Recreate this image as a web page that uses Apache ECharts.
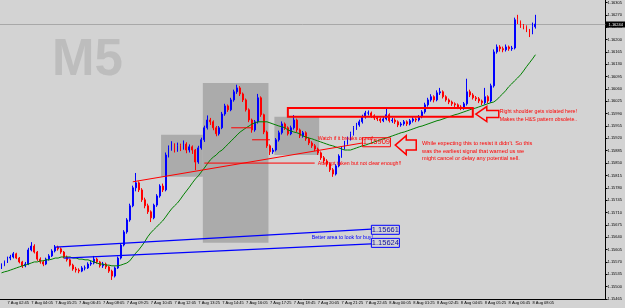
<!DOCTYPE html>
<html>
<head>
<meta charset="utf-8">
<script src="https://cdn.jsdelivr.net/npm/echarts@6/dist/echarts.min.js"></script>
<style>
  html, body { margin: 0; padding: 0; background: #d3d3d3; }
  #chart { width: 625px; height: 308px; }
</style>
</head>
<body>
<div id="chart"></div>
<script>
// EURUSD, drawn as 10 minute bars. Prices are kept as points above 1.15000
const BASE = 1.15;
const startTime = Date.UTC(2018, 7, 7, 2, 25);
const stepMinutes = 10;

// [open, close, low, high]
const ohlcPts = [
  [556,561,550,566],[561,570,558,574],[570,581,567,585],[581,584,575,590],[584,593,580,598],
  [593,581,578,596],[581,570,566,584],[570,559,553,573],[559,564,555,570],[564,604,561,610],
  [604,615,600,626],[615,598,594,620],[598,578,573,601],[578,570,565,583],[570,564,558,575],
  [564,578,561,582],[578,587,574,592],[587,601,584,606],[601,612,597,618],[612,607,602,616],
  [607,598,593,611],[598,584,580,601],[584,576,571,588],[576,561,557,579],[561,550,545,565],
  [550,547,540,556],[547,544,538,552],[544,553,541,558],[553,553,546,560],[553,564,550,569],
  [564,567,559,573],[567,578,563,587],[578,570,565,582],[570,559,554,573],[559,564,553,570],
  [564,556,550,568],[556,544,539,559],[544,530,519,548],[530,553,526,557],[553,581,550,585],
  [581,618,577,622],[618,655,614,660],[655,689,650,694],[689,729,684,735],[729,780,725,786],
  [780,794,770,822],[794,774,768,798],[774,746,740,779],[746,729,722,752],[729,712,706,735],
  [712,695,683,716],[695,731,691,735],[731,757,726,762],[757,785,752,790],[785,774,768,792],
  [774,873,770,880],[873,893,866,900],[893,901,885,912],[901,887,880,906],[887,899,882,908],
  [899,893,884,905],[893,904,888,914],[904,887,878,909],[887,896,880,903],[896,887,876,900],
  [887,853,830,890],[853,893,848,899],[893,916,888,922],[916,950,910,956],[950,972,945,985],
  [972,967,958,978],[967,950,943,971],[950,933,926,955],[933,950,928,955],[950,989,946,995],
  [989,1012,984,1018],[1012,1001,995,1016],[1001,1029,997,1035],[1029,1052,1024,1058],[1052,1063,1046,1072],
  [1063,1046,1040,1068],[1046,1029,1023,1050],[1029,1001,996,1033],[1001,972,966,1005],[972,944,936,976],
  [944,967,939,972],[967,1035,962,1046],[1035,987,981,1039],[987,938,932,990],[938,899,893,942],
  [899,882,873,903],[882,887,876,893],[887,916,883,921],[916,936,911,942],[936,961,931,968],
  [961,950,944,965],[950,933,928,954],[933,950,929,956],[950,972,945,986],[972,944,938,976],
  [944,927,921,948],[927,936,922,941],[936,919,913,940],[919,907,901,923],[907,899,893,912],
  [899,890,884,904],[890,879,873,894],[879,865,859,883],[865,856,849,870],[856,848,840,861],
  [848,831,825,852],[831,819,811,836],[819,842,815,847],[842,870,838,875],[870,893,865,898],
  [893,907,888,913],[907,919,902,925],[919,933,914,939],[933,950,928,955],[950,958,944,964],
  [958,967,953,973],[967,981,962,987],[981,992,976,998],[992,992,985,999],[992,984,978,996],
  [984,978,972,988],[978,975,969,983],[975,970,964,979],[970,975,966,981],[975,987,971,1006],
  [987,970,965,991],[970,972,964,978],[972,967,961,977],[967,958,952,971],[958,961,953,966],
  [961,967,956,972],[967,961,955,971],[961,970,957,975],[970,975,965,980],[975,972,966,979],
  [972,981,968,986],[981,995,977,1000],[995,1015,990,1021],[1015,1029,1010,1035],[1029,1038,1024,1045],
  [1038,1029,1022,1042],[1029,1049,1025,1056],[1049,1052,1043,1063],[1052,1038,1033,1056],[1038,1029,1024,1042],
  [1029,1023,1017,1033],[1023,1018,1012,1027],[1018,1015,1009,1022],[1015,1009,1003,1019],[1009,1006,1000,1014],
  [1006,1018,1001,1023],[1018,1052,1013,1089],[1052,1043,1037,1058],[1043,1035,1030,1048],[1035,1032,1026,1040],
  [1032,1026,1020,1037],[1026,1021,1014,1030],[1021,1038,1016,1063],[1038,1026,1019,1042],[1026,1069,1021,1075],
  [1069,1165,1064,1172],[1165,1179,1160,1186],[1179,1174,1166,1184],[1174,1171,1164,1180],[1171,1179,1166,1186],
  [1179,1174,1168,1183],[1174,1176,1168,1182],[1176,1256,1172,1262],[1256,1250,1244,1270],[1250,1239,1233,1254],
  [1239,1236,1229,1244],[1236,1227,1221,1240],[1227,1219,1207,1230],[1219,1236,1215,1248],[1236,1244,1231,1270]
];

// moving average
const maPts = [
  539,542,544,547,550,553,556,559,561,564, 567,570,570,573,573,576,576,578,581,581,
  584,584,584,584,581,581,578,578,576,576, 573,570,567,564,564,561,561,559,559,559,
  561,564,567,573,584,595,604,615,627,641, 652,661,669,678,686,697,709,720,729,737,
  748,760,771,782,794,805,814,825,836,848, 859,867,873,882,887,896,904,913,921,930,
  938,944,950,955,961,964,967,967,967,967, 964,961,958,955,953,950,944,941,938,936,
  933,927,924,921,919,916,913,910,907,904, 901,899,896,893,890,887,887,887,890,893,
  896,899,901,904,907,910,913,916,919,921, 924,927,930,933,936,938,941,944,947,950,
  953,955,958,961,964,967,970,972,975,978, 981,984,987,989,992,995,998,1001,1004,1006,
  1009,1012,1015,1018,1021,1023,1029,1038,1046,1055, 1066,1074,1083,1091,1100,1111,1123,1134,1145,1157
];

const bidPts = 1244;
const yMin = 1.15465, yMax = 1.16312, yStep = 0.00035;
const extraBars = 23; // empty space right of the last bar

// annotations, in [bar index, points]
const grayBoxes = [[54, 67, 930, 811], [68, 89, 1077, 624], [92, 106, 981, 873]];
const redSegments = [[44, 797, 121, 907], [68, 850, 105, 850], [77, 950, 84, 950], [84, 916, 90, 916]];
const blueSegments = [[18, 612, 124, 663], [21, 581, 124, 621]];
const redFrame = [96, 1006, 158, 981];
const priceTags = [
  { idx: 121, pts: 909, text: '1.15909', color: '#ff0000' },
  { idx: 124, pts: 661, text: '1.15661', color: '#0000ff' },
  { idx: 124, pts: 624, text: '1.15624', color: '#0000ff' }
];
const arrows = [
  { idx: 132, pts: 901, len: 21, head: 11, hh: 9.5, sh: 5 },
  { idx: 159, pts: 989, len: 23, head: 11, hh: 7.5, sh: 3.5 }
];
const notes = [
  { idx: 106, pts: 921, color: '#ff0000', size: 5.2, text: 'Watch if it breaks or not!' },
  { idx: 106, pts: 850, color: '#ff0000', size: 5.2, text: 'Attempt taken but not clear enough!!' },
  { idx: 141, pts: 907, color: '#ff0000', size: 5.6, text: "While expecting this to resist it didn't. So this\nwas the earliest signal that warned us we\nmight cancel or delay any potential sell." },
  { idx: 167, pts: 998, color: '#ff0000', size: 5.2, text: 'Right shoulder gets violated here!\nMakes the H&S pattern obsolete..' },
  { idx: 104, pts: 641, color: '#0000ff', size: 5.2, text: 'Better area to look for buy!' }
];

const FONT = 'Liberation Sans, Arial, sans-serif';
const toPrice = (p) => +(BASE + p / 100000).toFixed(5);

const months = ['Jan','Feb','Mar','Apr','May','Jun','Jul','Aug','Sep','Oct','Nov','Dec'];
const pad = (v) => (v < 10 ? '0' : '') + v;
const categories = ohlcPts.map((_, i) => {
  const d = new Date(startTime + i * stepMinutes * 60000);
  return d.getUTCDate() + ' ' + months[d.getUTCMonth()] + ' ' + pad(d.getUTCHours()) + ':' + pad(d.getUTCMinutes());
});
const candles = ohlcPts.map((b) => b.map(toPrice));
const ma = maPts.map(toPrice);
const n = categories.length;
const showTime = (i) => i % 8 === 2 && i < n;

const chart = echarts.init(document.getElementById('chart'), null, { renderer: 'canvas' });

chart.setOption({
  animation: false,
  backgroundColor: '#d3d3d3',
  grid: { left: -1, right: 17, top: 0, bottom: 9 },
  xAxis: {
    type: 'category',
    data: categories,
    max: n - 1 + extraBars,
    boundaryGap: true,
    axisLine: { lineStyle: { color: '#000', width: 1 } },
    axisTick: { alignWithLabel: true, interval: showTime, length: 3, lineStyle: { color: '#000' } },
    axisLabel: {
      interval: showTime, align: 'left', margin: 2, fontSize: 4, color: '#000', fontFamily: FONT,
      showMinLabel: true, showMaxLabel: true,
      formatter: (v) => v || ''
    },
    splitLine: { show: false }
  },
  yAxis: {
    type: 'value',
    position: 'right',
    min: yMin, max: yMax, interval: yStep,
    axisLine: { show: true, lineStyle: { color: '#000', width: 1 } },
    axisTick: { show: true, length: 2, lineStyle: { color: '#000' } },
    axisLabel: {
      fontSize: 4, color: '#000', margin: 2, fontFamily: FONT, showMaxLabel: false,
      formatter: (v) => v.toFixed(5)
    },
    splitLine: { show: false }
  },
  series: [
    {
      type: 'candlestick',
      data: candles,
      barWidth: 1.4,
      itemStyle: { color: '#0000ff', color0: '#ff0000', borderColor: '#0000ff', borderColor0: '#ff0000', borderWidth: 1 }
    },
    {
      type: 'line',
      data: ma,
      showSymbol: false,
      silent: true,
      lineStyle: { color: '#008000', width: 1 },
      z: 3
    }
  ]
});

// annotations are placed through the axes of the chart
function pt(idx, pts) {
  return chart.convertToPixel({ seriesIndex: 0 }, [idx, toPrice(pts)]);
}

const elements = [];
elements.push({
  type: 'text', z: -1, left: 52, top: 35,
  style: { text: 'M5', font: 'bold 51px ' + FONT, fill: '#bdbdbd' }
});
grayBoxes.forEach(([a, b, top, bot]) => {
  const p1 = pt(a, top), p2 = pt(b, bot);
  elements.push({ type: 'rect', z: 0, shape: { x: p1[0] - 1.5, y: p1[1], width: p2[0] - p1[0] + 3, height: p2[1] - p1[1] }, style: { fill: '#ababab' } });
});

// bid line with its price box on the axis
{
  const yb = Math.round(pt(0, bidPts)[1]) + 0.5;
  const axisX = pt(n - 1 + extraBars, bidPts)[0] + 1.5;
  elements.push({ type: 'line', z: 1, shape: { x1: 0, y1: yb, x2: axisX, y2: yb }, style: { stroke: '#a8a8a8', lineWidth: 1 } });
  elements.push({ type: 'rect', z: 12, shape: { x: axisX, y: yb - 3, width: 625 - axisX, height: 6 }, style: { fill: '#000' } });
  elements.push({ type: 'text', z: 13, x: axisX + 3, y: yb, style: { text: toPrice(bidPts).toFixed(5), fill: '#fff', font: '4px ' + FONT, verticalAlign: 'middle' } });
}

redSegments.forEach(([a, pa, b, pb]) => {
  const p1 = pt(a, pa), p2 = pt(b, pb);
  elements.push({ type: 'line', z: 10, shape: { x1: p1[0], y1: p1[1], x2: p2[0], y2: p2[1] }, style: { stroke: '#ff0000', lineWidth: 1 } });
});
blueSegments.forEach(([a, pa, b, pb]) => {
  const p1 = pt(a, pa), p2 = pt(b, pb);
  elements.push({ type: 'line', z: 10, shape: { x1: p1[0], y1: p1[1], x2: p2[0], y2: p2[1] }, style: { stroke: '#0000ff', lineWidth: 1.3 } });
});
{
  const p1 = pt(redFrame[0], redFrame[1]), p2 = pt(redFrame[2], redFrame[3]);
  elements.push({ type: 'rect', z: 10, shape: { x: p1[0], y: p1[1], width: p2[0] - p1[0], height: p2[1] - p1[1] }, style: { fill: null, stroke: '#ff0000', lineWidth: 2 } });
}
priceTags.forEach((t) => {
  const p = pt(t.idx, t.pts);
  elements.push({ type: 'rect', z: 10, shape: { x: p[0], y: p[1] - 4.5, width: 28, height: 9 }, style: { fill: null, stroke: t.color, lineWidth: 1 } });
  elements.push({ type: 'text', z: 11, x: p[0] + 14, y: p[1], style: { text: t.text, fill: t.color === '#0000ff' ? '#1010a0' : '#ff0000', font: '7.5px ' + FONT, align: 'center', verticalAlign: 'middle' } });
});
arrows.forEach((a) => {
  const [tx, ty] = pt(a.idx, a.pts);
  elements.push({
    type: 'polygon', z: 10,
    shape: { points: [[tx, ty], [tx + a.head, ty - a.hh], [tx + a.head, ty - a.sh], [tx + a.len, ty - a.sh], [tx + a.len, ty + a.sh], [tx + a.head, ty + a.sh], [tx + a.head, ty + a.hh]] },
    style: { fill: null, stroke: '#ff0000', lineWidth: 1.5 }
  });
});
notes.forEach((t) => {
  const p = pt(t.idx, t.pts);
  elements.push({ type: 'text', z: 11, x: p[0], y: p[1] - 3, style: { text: t.text, fill: t.color, font: t.size + 'px ' + FONT, lineHeight: 7.5, align: 'left', verticalAlign: 'top' } });
});

chart.setOption({ graphic: { elements } });
</script>
</body>
</html>
